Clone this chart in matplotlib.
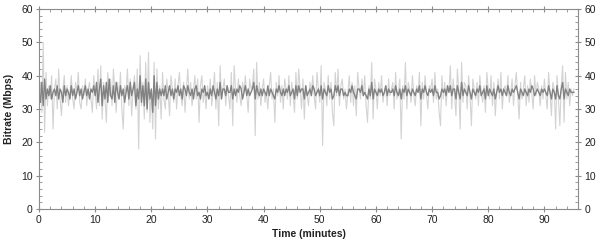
import numpy as np
import matplotlib
matplotlib.use("Agg")
import matplotlib.pyplot as plt
from matplotlib.ticker import MultipleLocator

plt.rcParams['font.family'] = ['Liberation Sans', 'DejaVu Sans']

# sample spacing of the series (minutes)
sample_step_min = 0.25

# light layer: individual bitrate spikes (Mbps), 4 samples per minute
light_mbps = [
    34, 38, 29, 50,  23, 41, 31, 37,  33, 40, 24, 36,  39, 30, 42, 33,  28, 36, 40, 32,
    37, 31, 35, 40,  33, 30, 38, 35,  41, 32, 30, 37,  34, 39, 31, 36,  38, 33, 29, 40,
    35, 30, 42, 31,  43, 27, 38, 33,  26, 41, 34, 39,  31, 42, 36, 29,  38, 33, 41, 30,
    24, 37, 35, 42,  31, 39, 28, 36,  40, 30, 42, 18,  46, 31, 38, 27,  44, 29, 47, 26,
    36, 24, 44, 21,  42, 30, 37, 27,  41, 33, 30, 39,  35, 28, 40, 36,  32, 39, 30, 37,
    41, 34, 31, 38,  29, 36, 42, 33,  38, 31, 35, 40,  33, 39, 26, 37,  40, 32, 36, 30,
    37, 34, 39, 31,  35, 41, 30, 38,  25, 43, 33, 36,  39, 31, 37, 34,  30, 41, 25, 43,
    36, 32, 39, 34,  31, 38, 35, 40,  34, 29, 39, 36,  37, 42, 22, 44,  33, 38, 31, 36,
    39, 32, 35, 30,  37, 41, 33, 36,  26, 38, 34, 40,  32, 37, 30, 39,  36, 33, 40, 31,
    38, 34, 29, 41,  33, 42, 36, 30,  39, 27, 37, 34,  31, 38, 35, 40,  34, 30, 41, 36,
    32, 43, 19, 38,  36, 31, 40, 33,  38, 29, 25, 41,  34, 42, 31, 37,  39, 33, 36, 30,
    35, 40, 32, 38,  31, 37, 28, 41,  36, 33, 39, 34,  40, 31, 26, 37,  33, 44, 27, 39,
    36, 30, 38, 34,  40, 32, 35, 37,  31, 39, 34, 36,  38, 30, 41, 33,  35, 39, 21, 37,
    33, 44, 30, 38,  36, 32, 40, 34,  31, 37, 35, 41,  25, 38, 33, 40,  34, 30, 37, 36,
    39, 32, 41, 33,  36, 29, 25, 40,  33, 38, 31, 37,  35, 43, 30, 39,  34, 28, 42, 36,
    24, 44, 32, 38,  37, 30, 40, 34,  25, 39, 36, 33,  38, 31, 40, 35,  32, 37, 29, 41,
    36, 33, 40, 31,  38, 28, 35, 39,  33, 41, 30, 36,  37, 34, 40, 32,  35, 39, 31, 37,
    41, 34, 27, 38,  33, 36, 40, 31,  37, 32, 39, 35,  30, 40, 34, 38,  36, 31, 37, 33,
    39, 34, 30, 41,  35, 28, 38, 36,  24, 40, 33, 25,  37, 43, 26, 41,  33, 38, 31, 36,
    34, 36,
]

# dark layer: dense core of the bitrate trace (Mbps), 4 samples per minute
core_mbps = [
    35, 32, 38, 31,  39, 33, 36, 34,  37, 33, 35, 36,  34, 37, 33, 36,  35, 32, 37, 34,
    36, 35, 33, 37,  34, 36, 33, 35,  37, 34, 36, 33,  35, 37, 34, 36,  33, 36, 35, 37,
    34, 38, 32, 36,  39, 31, 37, 33,  38, 32, 39, 34,  33, 37, 32, 38,  35, 33, 37, 34,
    36, 32, 35, 37,  33, 38, 34, 36,  38, 31, 36, 33,  40, 32, 37, 31,  39, 30, 38, 33,
    36, 29, 40, 31,  38, 33, 36, 34,  36, 34, 37, 33,  35, 37, 34, 36,  33, 36, 35, 37,
    34, 36, 33, 37,  36, 34, 37, 35,  34, 36, 33, 36,  37, 34, 35, 33,  36, 35, 37, 34,
    35, 33, 36, 34,  37, 35, 33, 36,  34, 38, 33, 36,  36, 34, 37, 35,  35, 37, 33, 36,
    34, 36, 35, 37,  36, 33, 35, 37,  34, 36, 34, 35,  36, 38, 33, 37,  35, 34, 36, 34,
    36, 35, 34, 37,  34, 36, 35, 34,  33, 36, 35, 37,  35, 34, 36, 34,  36, 35, 37, 34,
    35, 36, 33, 37,  34, 37, 35, 36,  36, 33, 37, 34,  35, 36, 34, 37,  36, 34, 35, 36,
    34, 37, 33, 36,  35, 34, 37, 35,  36, 33, 34, 37,  35, 37, 34, 36,  36, 34, 35, 34,
    34, 36, 35, 37,  35, 34, 33, 36,  36, 35, 37, 34,  35, 34, 33, 36,  34, 38, 33, 36,
    35, 34, 36, 35,  36, 34, 35, 37,  34, 36, 35, 35,  36, 34, 37, 35,  34, 36, 33, 36,
    35, 37, 34, 36,  35, 34, 36, 35,  34, 36, 35, 37,  33, 36, 35, 37,  35, 34, 36, 35,
    36, 34, 37, 35,  35, 33, 34, 36,  35, 36, 34, 37,  35, 37, 34, 36,  36, 33, 37, 35,
    33, 38, 34, 36,  35, 34, 37, 35,  33, 36, 35, 34,  36, 35, 37, 34,  35, 36, 33, 37,
    34, 36, 35, 34,  36, 33, 35, 37,  35, 36, 34, 36,  35, 34, 37, 35,  34, 36, 35, 36,
    37, 35, 33, 36,  35, 34, 36, 35,  34, 36, 35, 37,  36, 34, 35, 36,  35, 34, 36, 35,
    36, 35, 34, 37,  35, 33, 36, 35,  33, 37, 34, 33,  36, 38, 33, 36,  35, 34, 36, 35,
    35, 35,
]

x_ticks = [0, 10, 20, 30, 40, 50, 60, 70, 80, 90]
y_ticks = [0, 10, 20, 30, 40, 50, 60]
x_label = "Time (minutes)"
y_label = "Bitrate (Mbps)"

t_light = np.arange(len(light_mbps)) * sample_step_min
t_core = np.arange(len(core_mbps)) * sample_step_min

fig = plt.figure(figsize=(6.0, 2.44), dpi=100)
ax = fig.add_axes([0.065, 0.1434, 0.8985, 0.8196])

ax.plot(t_light, light_mbps, color='#d3d3d3', lw=0.8)
ax.plot(t_core, core_mbps, color='#828282', lw=1.0)

ax.set_xlim(0, 96)
ax.set_ylim(0, 60)
ax.set_xticks(x_ticks)
ax.set_yticks(y_ticks)
ax.xaxis.set_minor_locator(MultipleLocator(2))
ax.yaxis.set_minor_locator(MultipleLocator(2))

for s in ax.spines.values():
    s.set_color('#8c8c8c')
    s.set_linewidth(0.8)

ax.tick_params(which='major', direction='inout', length=5, width=0.8, color='#8c8c8c',
               labelsize=7.5, labelcolor='#222222', top=True, right=True, labelright=True, pad=2)
ax.tick_params(which='minor', direction='in', length=2.5, width=0.6, color='#8c8c8c',
               top=True, right=True)

ax.set_xlabel(x_label, fontsize=7.5, fontweight='bold', color='#222222', labelpad=3)
ax.set_ylabel(y_label, fontsize=7.5, fontweight='bold', color='#222222', labelpad=5)

fig.savefig('out.png', dpi=100)
